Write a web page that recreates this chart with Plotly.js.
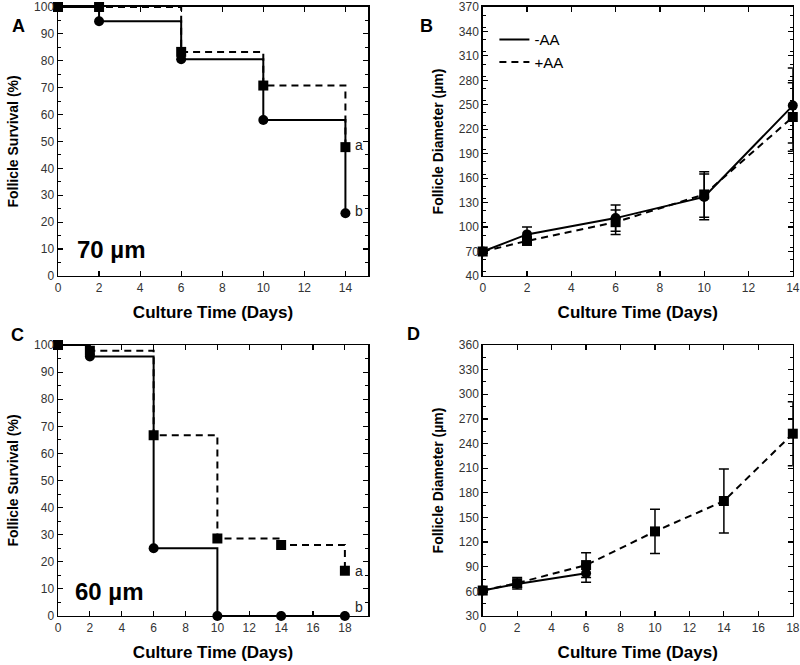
<!DOCTYPE html>
<html>
<head>
<meta charset="utf-8">
<script src="https://cdn.plot.ly/plotly-3.0.1.min.js"></script>
<style>
  html, body { margin: 0; padding: 0; background: #fff; }
  #chart { width: 800px; height: 665px; }
</style>
</head>
<body>
<div id="chart"></div>
<script>
// survival, 70 um follicles (A)
const daysA = [0, 2, 6, 10, 14];
const survA_minusAA = [100, 94.7, 80.6, 58.0, 23.3];
const survA_plusAA = [100, 100, 83.3, 70.8, 47.9];

// diameter, 70 um follicles (B)
const diamB_minusAA = [70, 91, 111, 137, 249];
const errB_minusAA = [2, 9, 16, 28, 46];
const diamB_plusAA = [70, 83, 106, 140, 235];
const errB_plusAA = [2, 5, 15, 28, 42];

// survival, 60 um follicles (C)
const daysC = [0, 2, 6, 10, 14, 18];
const survC_minusAA = [100, 95.8, 25.0, 0, 0, 0];
const survC_plusAA = [100, 97.9, 66.7, 28.6, 26.2, 16.7];

// diameter, 60 um follicles (D)
const daysD_minusAA = [0, 2, 6];
const diamD_minusAA = [61, 69, 82];
const errD_minusAA = [2, 4, 11];
const daysD_plusAA = [0, 2, 6, 10, 14, 18];
const diamD_plusAA = [61, 70, 92, 133, 170, 252];
const errD_plusAA = [2, 7, 15, 27, 39, 39];

const seriesNames = ['-AA', '+AA'];
const xTitle = 'Culture Time (Days)';
const survTitle = 'Follicle Survival (%)';
const diamTitle = 'Follicle Diameter (\u00b5m)';

const FONT = 'Liberation Sans, Arial, Helvetica, sans-serif';
const DASH = '7px,5px';

function survTrace(x, y, dashed, xa, ya) {
  return {
    x: x, y: y, xaxis: xa, yaxis: ya,
    type: 'scatter', mode: 'lines+markers',
    line: { shape: 'hv', color: '#000', width: 2, dash: dashed ? DASH : 'solid' },
    marker: { symbol: dashed ? 'square' : 'circle', size: 10, color: '#000' },
    cliponaxis: false, showlegend: false, hoverinfo: 'x+y'
  };
}

function diamTrace(x, y, err, dashed, xa, ya) {
  return {
    x: x, y: y, xaxis: xa, yaxis: ya,
    type: 'scatter', mode: 'lines+markers',
    line: { color: '#000', width: 2, dash: dashed ? DASH : 'solid' },
    marker: { symbol: dashed ? 'square' : 'circle', size: 10, color: '#000' },
    error_y: { type: 'data', array: err, visible: true, color: '#000', thickness: 1.5, width: 5 },
    cliponaxis: false, showlegend: false, hoverinfo: 'x+y'
  };
}

const traces = [
  survTrace(daysA, survA_minusAA, false, 'x', 'y'),
  survTrace(daysA, survA_plusAA, true, 'x', 'y'),
  diamTrace(daysA, diamB_minusAA, errB_minusAA, false, 'x2', 'y2'),
  diamTrace(daysA, diamB_plusAA, errB_plusAA, true, 'x2', 'y2'),
  survTrace(daysC, survC_minusAA, false, 'x3', 'y3'),
  survTrace(daysC, survC_plusAA, true, 'x3', 'y3'),
  diamTrace(daysD_minusAA, diamD_minusAA, errD_minusAA, false, 'x4', 'y4'),
  diamTrace(daysD_plusAA, diamD_plusAA, errD_plusAA, true, 'x4', 'y4'),
  // legend-only line samples
  { x: [null], y: [null], xaxis: 'x2', yaxis: 'y2', type: 'scatter', mode: 'lines',
    name: seriesNames[0], line: { color: '#000', width: 2 } },
  { x: [null], y: [null], xaxis: 'x2', yaxis: 'y2', type: 'scatter', mode: 'lines',
    name: seriesNames[1], line: { color: '#000', width: 2, dash: DASH } }
];

function xAxis(domain, range, anchor) {
  return {
    domain: domain, range: range, anchor: anchor,
    dtick: 2, tick0: 0, ticks: 'inside', ticklen: 5, tickwidth: 1.2, tickcolor: '#000',
    showline: true, linecolor: '#000', linewidth: 1.5, mirror: 'ticks',
    showgrid: false, zeroline: false, ticklabeloverflow: 'allow',
    tickfont: { family: FONT, size: 12, color: '#333' },
    title: { text: xTitle, font: { family: FONT, size: 17, color: '#000', weight: 'bold' }, standoff: 12 }
  };
}

function yAxis(domain, range, dtick, title, anchor) {
  return {
    domain: domain, range: range, anchor: anchor,
    dtick: dtick, tick0: range[0], ticks: 'inside', ticklen: 5, tickwidth: 1.2, tickcolor: '#000',
    minor: { dtick: dtick / 2, ticks: 'inside', ticklen: 3, tickcolor: '#000', tickwidth: 1 },
    showline: true, linecolor: '#000', linewidth: 1.5, mirror: 'ticks',
    showgrid: false, zeroline: false, ticklabeloverflow: 'allow',
    tickfont: { family: FONT, size: 12, color: '#333' },
    title: { text: title, font: { family: FONT, size: 14, color: '#000', weight: 'bold' }, standoff: 12 }
  };
}

const topRow = [0.585, 0.9895];
const botRow = [0.0737, 0.4812];
const leftCol = [0.0725, 0.46];
const rightCol = [0.6034, 0.991];

const letterFont = { family: FONT, size: 18, color: '#000', weight: 'bold' };
const labelFont = { family: FONT, size: 14, color: '#222' };
const bigFont = { family: FONT, size: 24, color: '#000', weight: 'bold' };

const annotations = [
  { text: 'A', xref: 'paper', yref: 'paper', x: 10 / 800, y: 1 - 14 / 665, showarrow: false, font: letterFont },
  { text: 'B', xref: 'paper', yref: 'paper', x: 426 / 800, y: 1 - 14 / 665, showarrow: false, font: letterFont },
  { text: 'C', xref: 'paper', yref: 'paper', x: 9 / 800, y: 1 - 335 / 665, showarrow: false, font: letterFont },
  { text: 'D', xref: 'paper', yref: 'paper', x: 413 / 800, y: 1 - 334 / 665, showarrow: false, font: letterFont },
  { text: '70 \u00b5m', xref: 'x', yref: 'y', x: 2.6, y: 10, showarrow: false, font: bigFont },
  { text: '60 \u00b5m', xref: 'x3', yref: 'y3', x: 3.2, y: 9, showarrow: false, font: bigFont },
  { text: 'a', xref: 'x', yref: 'y', x: daysA[4], y: survA_plusAA[4], xshift: 14, yshift: 2, showarrow: false, font: labelFont },
  { text: 'b', xref: 'x', yref: 'y', x: daysA[4], y: survA_minusAA[4], xshift: 14, yshift: 2, showarrow: false, font: labelFont },
  { text: 'a', xref: 'x3', yref: 'y3', x: daysC[5], y: survC_plusAA[5], xshift: 14, yshift: 0, showarrow: false, font: labelFont },
  { text: 'b', xref: 'x3', yref: 'y3', x: daysC[5], y: survC_minusAA[5], xshift: 14, yshift: 9, showarrow: false, font: labelFont }
];

const layout = {
  width: 800, height: 665,
  margin: { l: 0, r: 0, t: 0, b: 0 },
  paper_bgcolor: '#fff', plot_bgcolor: '#fff',
  font: { family: FONT, color: '#000' },
  showlegend: true,
  legend: {
    x: 0.618, y: 0.965, xanchor: 'left', yanchor: 'top',
    bgcolor: 'rgba(0,0,0,0)', itemwidth: 30, tracegroupgap: 0,
    font: { family: FONT, size: 15, color: '#000' }
  },
  xaxis: xAxis(leftCol, [0, 15.1], 'y'),
  yaxis: yAxis(topRow, [0, 100], 10, survTitle, 'x'),
  xaxis2: xAxis(rightCol, [0, 14], 'y2'),
  yaxis2: yAxis(topRow, [40, 370], 30, diamTitle, 'x2'),
  xaxis3: xAxis(leftCol, [0, 19.45], 'y3'),
  yaxis3: yAxis(botRow, [0, 100], 10, survTitle, 'x3'),
  xaxis4: xAxis(rightCol, [0, 18], 'y4'),
  yaxis4: yAxis(botRow, [30, 360], 30, diamTitle, 'x4'),
  annotations: annotations
};

Plotly.newPlot('chart', traces, layout, { displayModeBar: false, staticPlot: true });
</script>
</body>
</html>
